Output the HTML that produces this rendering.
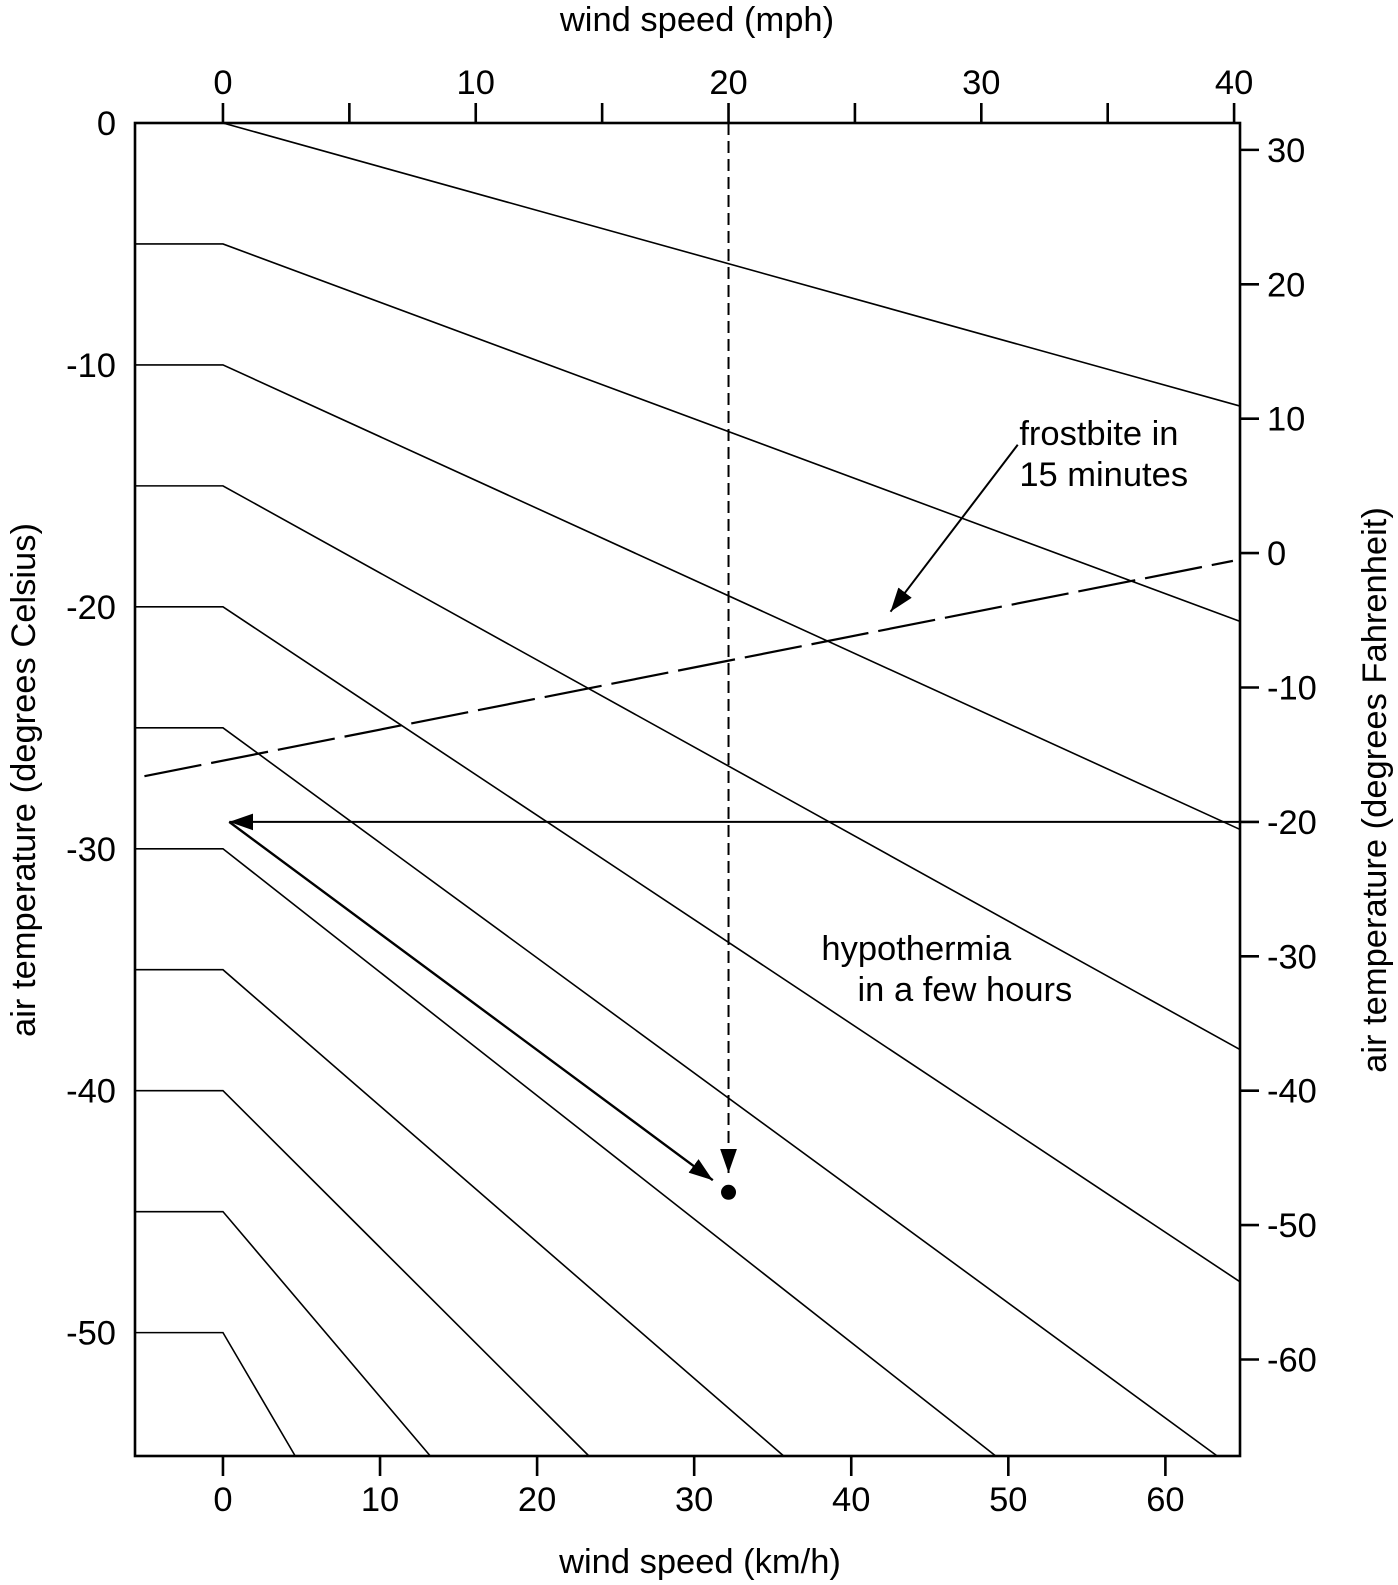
<!DOCTYPE html>
<html><head><meta charset="utf-8"><style>
html,body{margin:0;padding:0;background:#fff;}
svg{display:block;font-family:"Liberation Sans",Arial,sans-serif;}
</style></head><body>
<svg id="chart" width="1398" height="1585" viewBox="0 0 1398 1585" xmlns="http://www.w3.org/2000/svg">
<defs>
<marker id="ah" viewBox="0 0 10 10" refX="10" refY="5" markerWidth="24" markerHeight="24" markerUnits="userSpaceOnUse" orient="auto">
<path d="M0,1.5 L10,5 L0,8.5 Z" fill="#000"/></marker>
</defs>
<g id="marks"></g>
<g id="axes"></g>
</svg>
<script>
// data
const curveStartTemps = [0,-5,-10,-15,-20,-25,-30,-35,-40,-45,-50];
const curveEndSpeeds  = [64.75,64.75,64.75,64.75,64.75,63.3,49.2,35.7,23.3,13.2,4.6];
const curveEndTemps   = [-11.7,-20.6,-29.2,-38.3,-47.9,-55.1,-55.1,-55.1,-55.1,-55.1,-55.1];
const frostbiteSpeeds = [-5.0,64.3];
const frostbiteTemps  = [-27.0,-18.1];
const kmhTicks = [0,10,20,30,40,50,60];
const mphTicks = [0,10,20,30,40];
const mphMinor = [5,15,25,35];
const celsiusTicks = [0,-10,-20,-30,-40,-50];
const fahrenheitTicks = [30,20,10,0,-10,-20,-30,-40,-50,-60];
const exampleWindMph = 20;
const exampleTempF = -20;
const exampleStartSpeed = 0.4;
const exampleResult = -44.2;

const X0=135,X1=1240,Y0=123,Y1=1456;
const vMin=-5.6,vMax=64.75,tMax=0,tMin=-55.1;
const FS=34.5;
const xs=v=>X0+(v-vMin)/(vMax-vMin)*(X1-X0);
const ys=t=>Y0+(tMax-t)/(tMax-tMin)*(Y1-Y0);
const mph2kmh=m=>m*1.609344;
const f2c=f=>(f-32)*5/9;
const NS='http://www.w3.org/2000/svg';
const marks=document.getElementById('marks');
const axes=document.getElementById('axes');
function mk(tag,attrs,parent){const e=document.createElementNS(NS,tag);for(const k in attrs)e.setAttribute(k,attrs[k]);parent.appendChild(e);return e;}
function txt(s,x,y,anchor,parent){const e=mk('text',{x:x,y:y,'text-anchor':anchor,'font-size':FS,fill:'#000'},parent);e.textContent=s;return e;}

curveStartTemps.forEach((t0,i)=>{
  const p=mk('polyline',{points:`${xs(vMin)},${ys(t0)} ${xs(0)},${ys(t0)} ${xs(curveEndSpeeds[i])},${ys(curveEndTemps[i])}`,fill:'none',stroke:'#000','stroke-width':1.6},marks);
  
  
});
const fb=mk('line',{x1:xs(frostbiteSpeeds[0]),y1:ys(frostbiteTemps[0]),x2:xs(frostbiteSpeeds[1]),y2:ys(frostbiteTemps[1]),stroke:'#000','stroke-width':2.2,'stroke-dasharray':'58 10'},marks);


const ev=mk('line',{x1:xs(mph2kmh(exampleWindMph)),y1:Y0,x2:xs(mph2kmh(exampleWindMph)),y2:ys(exampleResult+0.8),stroke:'#000','stroke-width':2,'stroke-dasharray':'12 6','marker-end':'url(#ah)'},marks);


const eh=mk('line',{x1:X1,y1:ys(f2c(exampleTempF)),x2:xs(exampleStartSpeed),y2:ys(f2c(exampleTempF)),stroke:'#000','stroke-width':2,'marker-end':'url(#ah)'},marks);


const ed=mk('line',{x1:xs(exampleStartSpeed),y1:ys(f2c(exampleTempF)),x2:xs(mph2kmh(exampleWindMph)-1.0),y2:ys(exampleResult+0.5),stroke:'#000','stroke-width':2.4,'marker-end':'url(#ah)'},marks);


const dot=mk('circle',{cx:xs(mph2kmh(exampleWindMph)),cy:ys(exampleResult),r:7.5,fill:'#000'},marks);


const fa=mk('line',{x1:xs(50.6),y1:ys(-13.3),x2:xs(42.5),y2:ys(-20.2),stroke:'#000','stroke-width':2,'marker-end':'url(#ah)'},marks);


let a;
a=txt('frostbite in',xs(50.7),ys(-13.3),'start',marks);


a=txt('15 minutes',xs(50.7),ys(-15.0),'start',marks);


a=txt('hypothermia',xs(38.1),ys(-34.6),'start',marks);


a=txt('in a few hours',xs(40.4),ys(-36.3),'start',marks);



const fr=mk('rect',{x:X0,y:Y0,width:X1-X0,height:Y1-Y0,fill:'none',stroke:'#000','stroke-width':2.6},axes);


kmhTicks.forEach(v=>{
  const l=mk('line',{x1:xs(v),y1:Y1,x2:xs(v),y2:Y1+20,stroke:'#000','stroke-width':2.6},axes);
  
  
  const t=txt(String(v),xs(v),1511,'middle',axes);
  
  
});
mphTicks.concat(mphMinor).forEach(m=>{
  const l=mk('line',{x1:xs(mph2kmh(m)),y1:Y0,x2:xs(mph2kmh(m)),y2:Y0-20,stroke:'#000','stroke-width':2.6},axes);
  
  
});
mphTicks.forEach(m=>{
  const t=txt(String(m),xs(mph2kmh(m)),94,'middle',axes);
  
  
});
celsiusTicks.forEach(c=>{
  const t=txt(String(c),116,ys(c)+12,'end',axes);
  
  
});
fahrenheitTicks.forEach(f=>{
  const y=ys(f2c(f));
  const l=mk('line',{x1:X1,y1:y,x2:X1+19,y2:y,stroke:'#000','stroke-width':2.6},axes);
  
  
  const t=txt(String(f),1267,y+12,'start',axes);
  
  
});
a=txt('wind speed (mph)',697,31,'middle',axes);


a=txt('wind speed (km/h)',700,1573,'middle',axes);


a=txt('air temperature (degrees Celsius)',0,0,'middle',axes);
a.setAttribute('transform','translate(35,780) rotate(-90)');


a=txt('air temperature (degrees Fahrenheit)',0,0,'middle',axes);
a.setAttribute('transform','translate(1386,790) rotate(-90)');


</script>
</body></html>
